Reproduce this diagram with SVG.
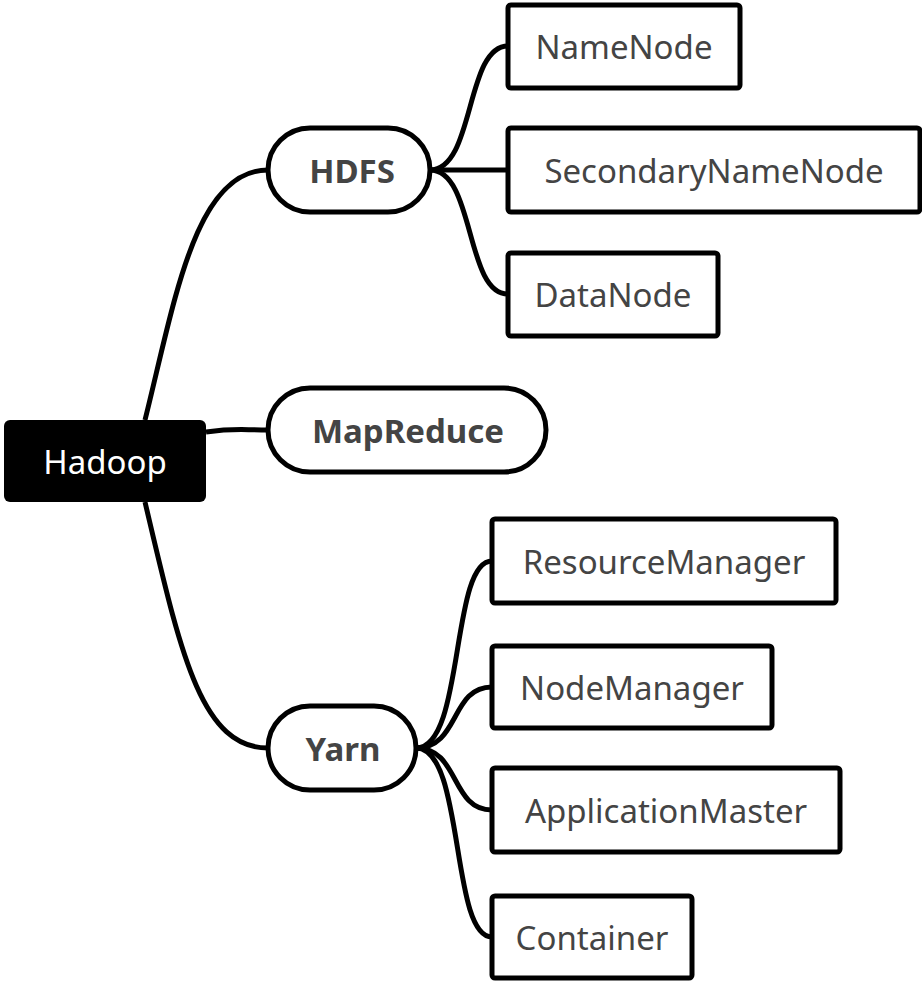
<svg xmlns="http://www.w3.org/2000/svg" width="922" height="984" viewBox="0 0 922 984">
<style>
.box{fill:#fff;stroke:#000;stroke-width:5}
.t{font-family:"Noto Sans","Open Sans",sans-serif;font-size:33px;fill:#444;text-anchor:middle;dominant-baseline:central}
.b{font-weight:bold}
.c{fill:none;stroke:#000;stroke-width:5}
</style>
<rect width="922" height="984" fill="#fff"/>
<g id="connectors">
<path class="c" d="M145,420 C175,300 195,170 268,170"/>
<path class="c" d="M206,432 C235,428 240,430 268,430"/>
<path class="c" d="M145,502 C180,650 200,748 268,748"/>
<path class="c" d="M430,170 C475,170 465,46 508,46"/>
<path class="c" d="M430,170 L508,170"/>
<path class="c" d="M430,170 C475,170 465,294 508,294"/>
<path class="c" d="M416,748 C465,748 450,561 492,561"/>
<path class="c" d="M416,748 C460,748 450,687 492,687"/>
<path class="c" d="M416,748 C460,748 450,810 492,810"/>
<path class="c" d="M416,748 C465,748 450,937 492,937"/>
</g>
<g id="hadoop"><rect x="4" y="420" width="202" height="82" rx="6" fill="#000"/><text class="t" x="105" y="461" style="fill:#fff">Hadoop</text></g>
<g id="hdfs"><rect class="box" x="268" y="128" width="162" height="84" rx="42"/><text class="t b" x="352" y="170">HDFS</text></g>
<g id="mapreduce"><rect class="box" x="268" y="388" width="278" height="84" rx="42"/><text class="t b" x="408" y="430">MapReduce</text></g>
<g id="yarn"><rect class="box" x="268" y="706" width="148" height="84" rx="42"/><text class="t b" x="343" y="748">Yarn</text></g>
<g id="namenode"><rect class="box" x="508" y="5" width="232" height="83" rx="3"/><text class="t" x="624" y="46">NameNode</text></g>
<g id="snn"><rect class="box" x="508" y="128" width="412" height="84" rx="3"/><text class="t" x="714" y="170">SecondaryNameNode</text></g>
<g id="datanode"><rect class="box" x="508" y="253" width="210" height="83" rx="3"/><text class="t" x="613" y="294">DataNode</text></g>
<g id="rm"><rect class="box" x="492" y="519" width="344" height="84" rx="3"/><text class="t" x="664" y="561">ResourceManager</text></g>
<g id="nm"><rect class="box" x="492" y="646" width="280" height="82" rx="3"/><text class="t" x="632" y="687">NodeManager</text></g>
<g id="am"><rect class="box" x="492" y="768" width="348" height="84" rx="3"/><text class="t" x="666" y="810">ApplicationMaster</text></g>
<g id="container"><rect class="box" x="492" y="896" width="200" height="82" rx="3"/><text class="t" x="592" y="937">Container</text></g>
</svg>
